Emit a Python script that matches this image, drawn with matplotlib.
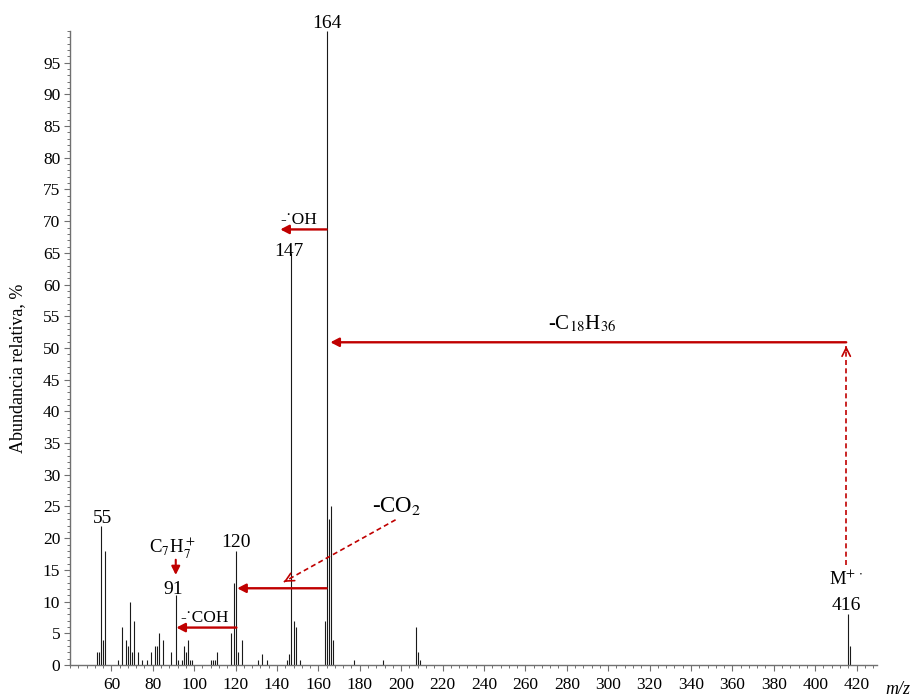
import matplotlib
matplotlib.use("Agg")
import matplotlib.pyplot as plt
from matplotlib.ticker import MultipleLocator, FixedLocator

plt.rcParams['font.family'] = ['Liberation Serif', 'DejaVu Serif']
plt.rcParams['mathtext.fontset'] = 'stix'

# ---- data ----
mz = [53, 54, 55, 56, 57, 63, 65, 67, 68, 69, 70, 71, 73, 75, 77, 79, 81, 82, 83, 85,
      89, 91, 92, 94, 95, 96, 97, 98, 99, 108, 109, 110, 111, 118, 119, 120, 121, 123,
      131, 133, 135, 145, 146, 147, 148, 149, 151, 163, 164, 165, 166, 167, 177, 191,
      207, 208, 209, 416, 417]
abundance = [2, 2, 22, 4, 18, 0.8, 6, 4, 3, 10, 2, 7, 2, 0.8, 0.8, 2, 3, 3, 5, 4,
             2, 11, 0.8, 0.8, 3, 2, 4, 0.8, 0.8, 0.8, 0.8, 0.8, 2, 5, 13, 18, 2, 4,
             0.8, 1.8, 0.8, 0.8, 1.8, 65, 7, 6, 0.8, 7, 100, 23, 25, 4, 0.8, 0.8,
             6, 2, 0.8, 8, 3]
x_ticks = list(range(60, 421, 20))
y_ticks = list(range(0, 96, 5))

RED = '#C00000'

fig = plt.figure(figsize=(9.16, 6.98), dpi=100)
ax = fig.add_axes([0.0764, 0.0473, 0.8813, 0.9083])

ax.vlines(mz, 0, abundance, colors='#1a1a1a', linewidth=0.8)

ax.set_xlim(40, 430)
ax.set_ylim(0, 100)
ax.xaxis.set_major_locator(FixedLocator(x_ticks))
ax.xaxis.set_minor_locator(MultipleLocator(4))
ax.yaxis.set_major_locator(FixedLocator(y_ticks))
ax.yaxis.set_minor_locator(MultipleLocator(1))
ax.tick_params(axis='both', which='major', labelsize=12.5, length=4, width=0.8,
               color='#707070', direction='out')
ax.tick_params(axis='both', which='minor', length=2.2, width=0.7, color='#707070',
               direction='out')
ax.tick_params(axis='x', pad=5)
ax.tick_params(axis='y', pad=3)
for s in ['top', 'right']:
    ax.spines[s].set_visible(False)
for s in ['left', 'bottom']:
    ax.spines[s].set_color('#707070')
    ax.spines[s].set_linewidth(1.0)

fig.text(18 / 916, 1 - 368 / 698, 'Abundancia relativa, %', rotation=90,
         ha='center', va='center', fontsize=13)
fig.text(898 / 916, 1 - 690 / 698, 'm/z', style='italic', ha='center',
         va='center', fontsize=13)

# peak labels
lab = dict(ha='center', va='baseline', fontsize=14, clip_on=False)
ax.text(164, 100.4, '164', **lab)
ax.text(145.7, 64.5, '147', **lab)
ax.text(120.0, 18.6, '120', **lab)
ax.text(55.7, 22.4, '55', **lab)
ax.text(90.1, 11.2, '91', **lab)
ax.text(415.0, 8.7, '416', **lab)
ax.text(415.0, 12.6, r'M$^{+\,\cdot}$', ha='center', va='baseline', fontsize=13.5)
ax.text(89.6, 17.7, r'C$_7$H$_7^+$', ha='center', va='baseline', fontsize=13.5)

# loss annotations
ax.text(150.5, 69.6, '-\u02d9OH', ha='center', va='baseline', fontsize=12.5)
ax.text(105.2, 6.8, '-\u02d9COH', ha='center', va='baseline', fontsize=12.5)
ax.text(287.4, 53.0, r'-C$_{18}$H$_{36}$', ha='center', va='baseline', fontsize=15)
ax.text(197.6, 24.1, r'-CO$_2$', ha='center', va='baseline', fontsize=16.5)

solid = dict(arrowstyle='-|>,head_length=0.5,head_width=0.26', lw=1.7, color=RED,
             shrinkA=0, shrinkB=0, mutation_scale=10)

def arrow(x0, y0, x1, y1):
    ax.annotate('', xy=(x1, y1), xytext=(x0, y0), arrowprops=solid)

arrow(164, 68.7, 141.6, 68.7)     # -OH
arrow(415.0, 50.9, 165.8, 50.9)   # -C18H36
arrow(164, 12.1, 120.8, 12.1)     # 164 -> 120
arrow(120.4, 5.9, 91.4, 5.9)      # -COH
ax.annotate('', xy=(91.1, 14.2), xytext=(91.1, 16.6),
            arrowprops=dict(arrowstyle='-|>,head_length=0.5,head_width=0.25', lw=1.5,
                            color=RED, shrinkA=0, shrinkB=0, mutation_scale=10))

def dashed_arrow(x0, y0, x1, y1):
    ax.plot([x0, x1], [y0, y1], color=RED, lw=1.2, ls=(0, (3, 2)))
    dx, dy = x1 - x0, y1 - y0
    ax.annotate('', xy=(x1, y1), xytext=(x1 - dx * 0.02, y1 - dy * 0.02),
                arrowprops=dict(arrowstyle='->,head_length=0.5,head_width=0.25',
                                lw=1.2, color=RED, shrinkA=0, shrinkB=0,
                                mutation_scale=12))

dashed_arrow(415.0, 15.7, 415.0, 50.3)   # M+ -> loss
dashed_arrow(197.3, 22.9, 143.3, 13.1)   # -CO2

fig.savefig('out.png', dpi=100)
